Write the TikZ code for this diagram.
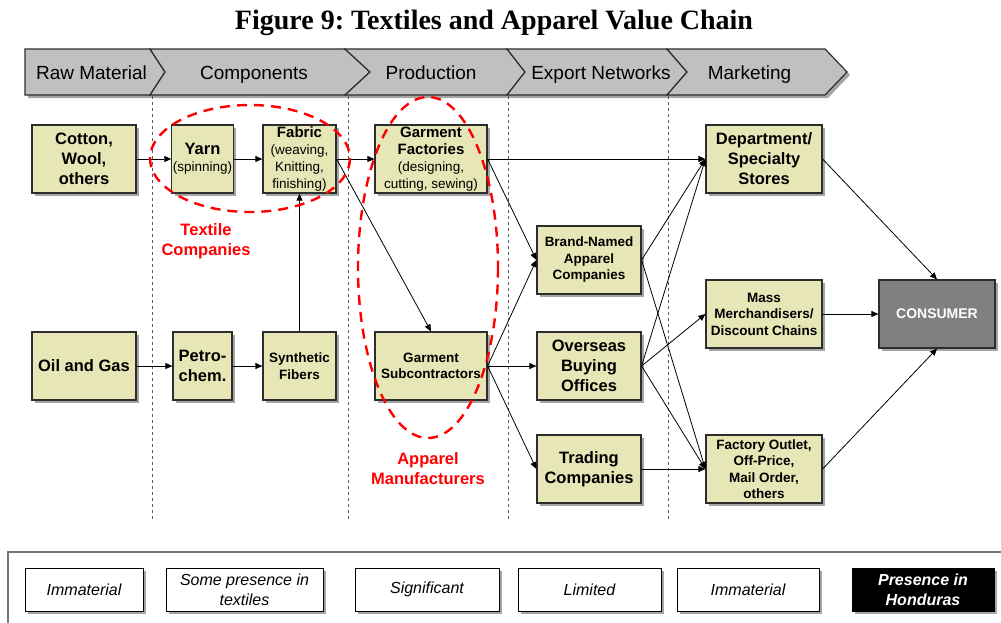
\documentclass[tikz,border=0pt]{standalone}
\usepackage{fontspec}
\setmainfont{Liberation Sans}
\newfontfamily\titlefont{Liberation Serif}
\usetikzlibrary{arrows.meta}
\usetikzlibrary{shadows}

\definecolor{khaki}{RGB}{230,230,182}
\definecolor{boxline}{RGB}{45,45,45}
\definecolor{stagegray}{RGB}{192,192,192}
\definecolor{shadowgray}{RGB}{165,165,165}
\definecolor{consumergray}{RGB}{128,128,128}
\definecolor{ringred}{RGB}{255,0,0}

\newcommand{\bigtxt}{\fontsize{16.5}{20}\selectfont\bfseries}
\newcommand{\midtxt}{\fontsize{15}{18}\selectfont\bfseries}
\newcommand{\smalltxt}{\fontsize{13.5}{16.5}\selectfont\bfseries}
\newcommand{\subtxt}{\fontsize{13.5}{15.5}\selectfont\mdseries}
\newcommand{\mixtxt}{\fontsize{13.5}{17}\selectfont}

\begin{document}
\frenchspacing
\begin{tikzpicture}[x=1pt,y=-1pt,
    boxshadow/.style={general shadow={fill=shadowgray, shadow xshift=3pt, shadow yshift=-3pt}},
    box/.style={draw=boxline, fill=khaki, line width=1.2pt, inner sep=1pt, align=center,
        minimum height=68pt, boxshadow},
    stage/.style={draw=boxline, fill=stagegray, line width=1.2pt, boxshadow},
    stagetxt/.style={font=\fontsize{19}{22}\selectfont, inner sep=0pt, anchor=base},
    divider/.style={draw=black!65, line width=0.9pt, dash pattern=on 3pt off 3pt},
    flow/.style={-{Triangle[length=7pt,width=6pt]}, line width=0.8pt},
    ring/.style={draw=ringred, line width=2.4pt, dash pattern=on 10pt off 7pt},
    redlabel/.style={text=ringred, font=\bigtxt, align=center},
    legend/.style={draw=black, fill=white, line width=0.9pt, minimum height=43pt, align=center,
        font=\fontsize{16}{20}\selectfont\itshape, boxshadow}]

    \useasboundingbox (0,0) rectangle (1001,622);

    % title
    \node[font=\titlefont\bfseries\fontsize{28}{32}\selectfont] (title) at (494,23)
        {Figure 9: Textiles and Apparel Value Chain};

    % stages
    \foreach \xa/\ta/\xb/\tb/\stagename/\lx/\txt in {
        25/25/150/165/rawmat/91.5/Raw Material,
        150/165/345/370/components/254/Components,
        345/370/507/525/production/431/Production,
        507/525/667/687/export/601/Export Networks,
        667/687/825/847/marketing/749.5/Marketing}{
        \draw[stage] (\xa,49) -- (\xb,49) -- (\tb,72) -- (\xb,95) -- (\xa,95) -- (\ta,72) -- cycle;
        \node[stagetxt] (\stagename) at (\lx,79) {\txt};
    }

    % dividers
    \foreach \dx in {152,348,508,668}
        \draw[divider] (\dx,96) -- (\dx,522);

    % boxes
    \node[box, minimum width=104pt, font=\bigtxt] (cotton) at (84,159) {Cotton,\\Wool,\\others};
    \node[box, minimum width=59pt, font=\mixtxt] (yarn) at (202.5,159) {{\bigtxt Yarn}\\{\subtxt (spinning)}};
    \node[box, minimum width=73pt, font=\mixtxt] (fabric) at (299.5,159)
        {{\midtxt Fabric}\\{\subtxt (weaving,}\\{\subtxt Knitting,}\\{\subtxt finishing)}};
    \node[box, minimum width=112pt, font=\mixtxt] (gfactory) at (431,159)
        {{\midtxt Garment}\\{\midtxt Factories}\\{\subtxt (designing,}\\{\subtxt cutting, sewing)}};
    \node[box, minimum width=104pt, font=\bigtxt] (oilgas) at (84,366) {Oil and Gas};
    \node[box, minimum width=59pt, font=\bigtxt] (petro) at (202.5,366) {Petro-\\chem.};
    \node[box, minimum width=73pt, font=\smalltxt] (synth) at (299.5,366) {Synthetic\\Fibers};
    \node[box, minimum width=112pt, font=\smalltxt] (gsub) at (431,366) {Garment\\Subcontractors};
    \node[box, minimum width=104pt, font=\smalltxt] (brand) at (589,260) {Brand-Named\\Apparel\\Companies};
    \node[box, minimum width=104pt, font=\bigtxt] (overseas) at (589,366) {Overseas\\Buying\\Offices};
    \node[box, minimum width=104pt, font=\bigtxt] (trading) at (589,469) {Trading\\Companies};
    \node[box, minimum width=116pt, font=\bigtxt] (dept) at (764,159) {Department/\\Specialty\\Stores};
    \node[box, minimum width=116pt, font=\smalltxt] (mass) at (764,314) {Mass\\Merchandisers/\\Discount Chains};
    \node[box, minimum width=116pt, font=\smalltxt] (outlet) at (764,469)
        {Factory Outlet,\\Off-Price,\\Mail Order,\\others};
    \node[box, fill=consumergray, text=white, minimum width=116pt, font=\fontsize{14}{17}\selectfont\bfseries]
        (consumer) at (937,314) {CONSUMER};

    % connectors
    \draw[flow] (cotton) -- (yarn);
    \draw[flow] (yarn) -- (fabric);
    \draw[flow] (fabric) -- (gfactory);
    \draw[flow] (fabric.east) -- (gsub.north);
    \draw[flow] (oilgas) -- (petro);
    \draw[flow] (petro) -- (synth);
    \draw[flow] (synth) -- (fabric);
    \draw[flow] (gfactory) -- (dept);
    \draw[flow] (gfactory.east) -- (brand.west);
    \draw[flow] (gsub.east) -- (brand.west);
    \draw[flow] (gsub.east) -- (overseas.west);
    \draw[flow] (gsub.east) -- (trading.west);
    \draw[flow] (brand.east) -- (dept.west);
    \draw[flow] (brand.east) -- (outlet.west);
    \draw[flow] (overseas.east) -- (dept.west);
    \draw[flow] (overseas.east) -- (mass.west);
    \draw[flow] (overseas.east) -- (outlet.west);
    \draw[flow] (trading) -- (outlet);
    \draw[flow] (dept.east) -- (consumer.north);
    \draw[flow] (mass) -- (consumer);
    \draw[flow] (outlet.east) -- (consumer.south);

    % company groups
    \draw[ring] (250,158.5) ellipse [x radius=100, y radius=53.5];
    \draw[ring] (428,267.5) ellipse [x radius=70, y radius=170.5];
    \node[redlabel] (textile) at (206,241) {Textile\\Companies};
    \node[redlabel] (apparel) at (428,469) {Apparel\\Manufacturers};

    % legend
    \draw[draw=black!55, line width=1.5pt] (8,624) -- (8,552) -- (1003,552);
    \node[legend, minimum width=118pt] (leg1) at (84,589.5) {Immaterial};
    \node[legend, minimum width=157pt] (leg2) at (244.5,589.5) {Some presence in\\textiles};
    \node[legend, minimum width=144pt] (leg3) at (427,589.5) {Significant};
    \node[legend, minimum width=143pt] (leg4) at (589.5,589.5) {Limited};
    \node[legend, minimum width=142pt] (leg5) at (748,589.5) {Immaterial};
    \node[legend, minimum width=142pt, fill=black, text=white, font=\fontsize{16}{20}\selectfont\bfseries\itshape]
        (leg6) at (923,589.5) {Presence in\\Honduras};
\end{tikzpicture}
\end{document}
